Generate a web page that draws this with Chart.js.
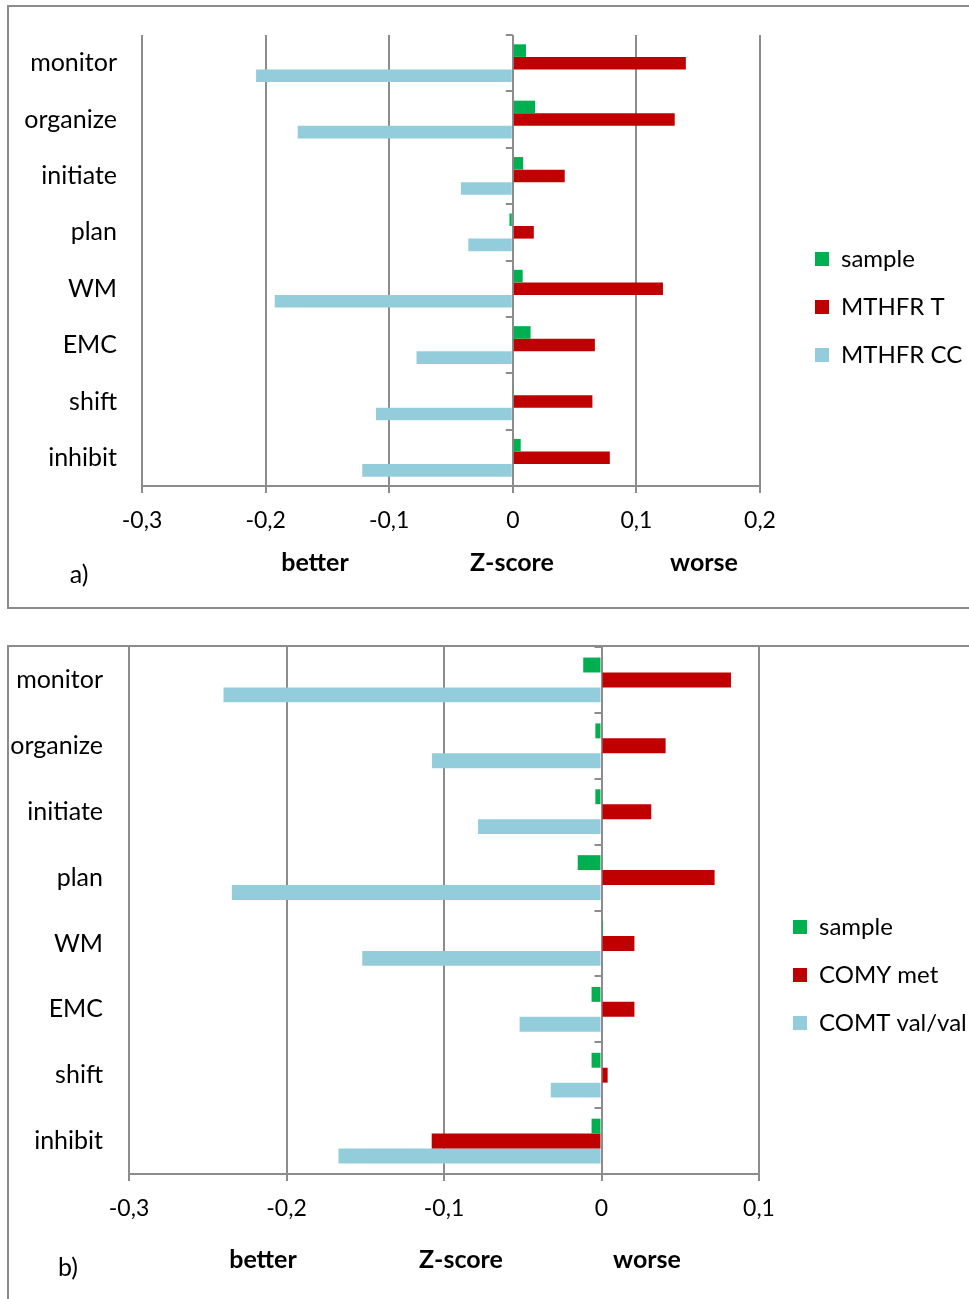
<!DOCTYPE html>
<html>
<head>
<meta charset="utf-8">
<script src="https://cdn.jsdelivr.net/npm/chart.js@4.4.1/dist/chart.umd.min.js"></script>
<style>
  html, body { margin: 0; padding: 0; background: #fff; width: 969px; height: 1299px; overflow: hidden; }
  .box { position: absolute; left: 7px; width: 1000px; border: 2px solid #8c8c8c; box-sizing: border-box; }
  canvas { position: absolute; left: 0; }
  .lbl { position: absolute; font-family: Lato, sans-serif; font-size: 25px; color: #000;
         transform: translate(-50%, -50%); white-space: nowrap; }
  .b { font-weight: bold; }
</style>
</head>
<body>
<div class="box" style="top:5px;height:604px"></div>
<div class="box" style="top:645px;height:700px"></div>
<canvas id="chartA" width="969" height="609" style="top:0"></canvas>
<canvas id="chartB" width="969" height="660" style="top:645px"></canvas>

<div class="lbl b" style="left:315px;top:561px">better</div>
<div class="lbl b" style="left:512px;top:561px">Z-score</div>
<div class="lbl b" style="left:704px;top:561px">worse</div>
<div class="lbl" style="left:79px;top:573px">a)</div>

<div class="lbl b" style="left:263px;top:1258px">better</div>
<div class="lbl b" style="left:461px;top:1258px">Z-score</div>
<div class="lbl b" style="left:647px;top:1258px">worse</div>
<div class="lbl" style="left:68px;top:1266px">b)</div>

<script>
// categories, top to bottom
var categories = ["monitor", "organize", "initiate", "plan", "WM", "EMC", "shift", "inhibit"];

// a) MTHFR
var sampleA = [0.0107, 0.018, 0.0084, -0.0027, 0.008, 0.0144, 0.0007, 0.0064];
var mthfrT  = [0.140, 0.131, 0.042, 0.017, 0.1215, 0.0664, 0.0644, 0.0785];
var mthfrCC = [-0.2077, -0.174, -0.042, -0.036, -0.1926, -0.0779, -0.1107, -0.1218];
var ticksA  = ["-0,3", "-0,2", "-0,1", "0", "0,1", "0,2"];

// b) COMT
var sampleB = [-0.0116, -0.0039, -0.0039, -0.0151, 0.001, -0.0063, -0.0063, -0.0063];
var comtMet = [0.0822, 0.0407, 0.0316, 0.0718, 0.0209, 0.0209, 0.0039, -0.1078];
var comtVal = [-0.240, -0.1076, -0.0784, -0.2347, -0.1519, -0.052, -0.0322, -0.167];
var ticksB  = ["-0,3", "-0,2", "-0,1", "0", "0,1"];

var GREEN = "#00b050", RED = "#c00000", BLUE = "#93cddc", GRID = "#8c8c8c";

Chart.defaults.font.family = "Lato";
Chart.defaults.font.size = 25;
Chart.defaults.color = "#000";

// moves the legend a bit away from the plot (and stops it clipping its text)
var legendGap = {
  id: "legendGap",
  afterLayout: function(chart, args, opts) {
    var lg = chart.legend;
    lg.left += opts.gap;
    lg.right = chart.width;
    lg.width = lg.right - lg.left;
  }
};

// small ticks on the left of the zero line, between categories
var zeroTicks = {
  id: "zeroTicks",
  beforeDatasetsDraw: function(chart) {
    var x = chart.scales.x, y = chart.scales.y, ctx = chart.ctx;
    var x0 = x.getPixelForValue(0);
    ctx.save();
    ctx.strokeStyle = GRID;
    ctx.lineWidth = 2;
    for (var i = 0; i <= categories.length; i++) {
      var py = Math.round(y.getPixelForValue(i - 0.5));
      ctx.beginPath();
      ctx.moveTo(x0 - 7, py);
      ctx.lineTo(x0, py);
      ctx.stroke();
    }
    ctx.restore();
  }
};

function makeChart(id, names, series, xmin, xmax, tickLabels, lay) {
  var colors = [GREEN, RED, BLUE];
  return new Chart(document.getElementById(id), {
    type: "bar",
    data: {
      labels: categories,
      datasets: series.map(function(d, i) {
        return {
          label: names[i],
          data: d,
          backgroundColor: colors[i],
          borderWidth: 0,
          barPercentage: 1,
          categoryPercentage: lay.catPct
        };
      })
    },
    options: {
      indexAxis: "y",
      responsive: false,
      animation: false,
      layout: { padding: { top: lay.top, bottom: lay.bottom, left: 0, right: lay.right } },
      scales: {
        x: {
          min: xmin, max: xmax,
          ticks: {
            stepSize: 0.1,
            padding: 14,
            font: { size: 23 },
            callback: function(v, i) { return tickLabels[i]; }
          },
          grid: { color: GRID, lineWidth: 2, drawTicks: true, tickLength: 7 },
          border: { display: true, color: GRID, width: 2 },
          afterFit: function(s) { s.height = lay.xH; }
        },
        y: {
          grid: { display: false, drawTicks: false },
          border: { display: false },
          ticks: { padding: lay.yPad },
          afterFit: function(s) {
            s.width = lay.left;
            s.paddingTop = 0;
            s.paddingBottom = 0;
          }
        }
      },
      plugins: {
        tooltip: { enabled: false },
        legend: {
          position: "right",
          align: "center",
          maxWidth: 150,
          labels: { boxWidth: 14, boxHeight: 14, padding: 24, font: { size: 24 } }
        },
        legendGap: { gap: lay.gap }
      }
    },
    plugins: [legendGap, zeroTicks]
  });
}

makeChart("chartA", ["sample", "MTHFR T", "MTHFR CC"], [sampleA, mthfrT, mthfrCC], -0.3, 0.2, ticksA,
  { top: 35, bottom: 30, right: 59, xH: 93, left: 142, yPad: 25, gap: 31, catPct: 0.67 });

makeChart("chartB", ["sample", "COMY met", "COMT val/val"], [sampleB, comtMet, comtVal], -0.3, 0.1, ticksB,
  { top: 2, bottom: 2, right: 60, xH: 129, left: 129, yPad: 26, gap: 10, catPct: 0.68 });
</script>
</body>
</html>
